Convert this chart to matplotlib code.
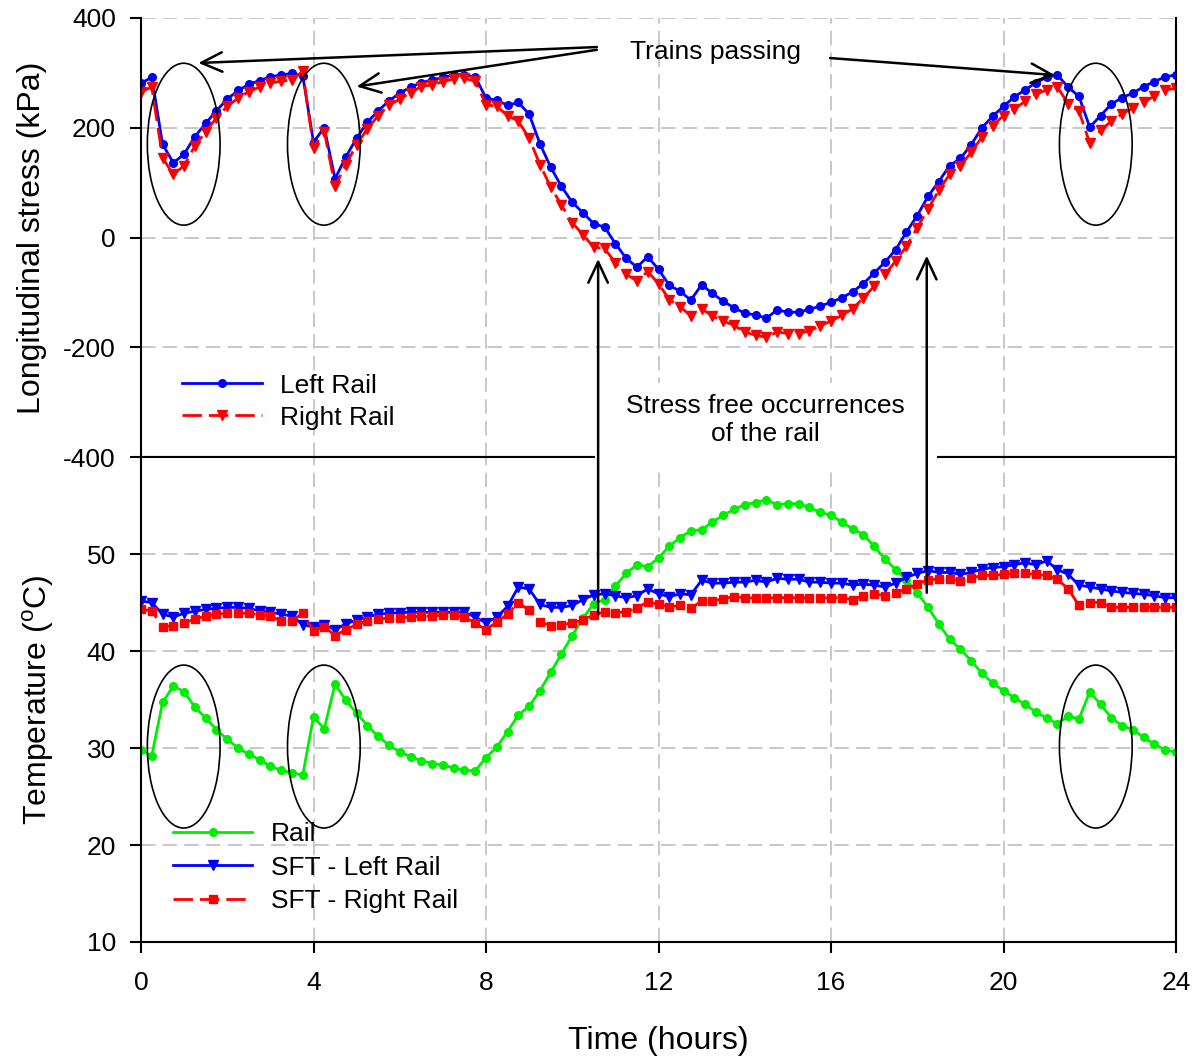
import matplotlib
matplotlib.use("Agg")
import matplotlib.pyplot as plt
from matplotlib.patches import Ellipse, Rectangle, ConnectionPatch
import numpy as np

plt.rcParams['font.family'] = ['Liberation Sans', 'DejaVu Sans']
plt.rcParams['mathtext.fontset'] = 'custom'
plt.rcParams['mathtext.rm'] = 'Liberation Sans'
plt.rcParams['axes.unicode_minus'] = False

# time of day, one reading every 15 minutes
hours = np.arange(0, 24.01, 0.25)

# longitudinal stress (kPa)
left_rail = [281, 292, 170, 136, 152, 184, 208, 231, 252, 268, 279, 286, 293, 296, 299, 295,
             174, 200, 107, 147, 181, 210, 231, 249, 263, 274, 282, 287, 292, 296, 296, 293,
             254, 250, 241, 246, 225, 171, 128, 93, 64, 45, 25, 19, -11, -38, -54, -35,
             -58, -87, -98, -114, -86, -102, -116, -128, -138, -141, -147, -132, -136, -136, -131, -125,
             -118, -110, -99, -84, -65, -45, -22, 10, 40, 75, 102, 131, 144, 169, 200, 221,
             239, 256, 269, 282, 292, 296, 274, 257, 201, 222, 243, 255, 263, 275, 284, 293, 296]
right_rail = [266, 274, 145, 115, 131, 167, 193, 218, 239, 254, 266, 274, 281, 285, 287, 303,
              163, 193, 93, 133, 169, 198, 222, 241, 252, 264, 275, 278, 284, 289, 290, 285,
              242, 239, 222, 212, 181, 133, 92, 59, 27, 5, -18, -20, -46, -67, -79, -62,
              -84, -113, -126, -143, -130, -143, -152, -160, -172, -178, -182, -172, -175, -175, -170, -161,
              -152, -142, -130, -110, -89, -67, -43, -16, 18, 52, 86, 115, 131, 155, 183, 204,
              222, 234, 248, 261, 269, 274, 244, 230, 172, 195, 212, 225, 236, 246, 258, 269, 272]

# temperatures (deg C)
rail_temp = [29.8, 29.2, 34.7, 36.4, 35.8, 34.2, 33.1, 31.9, 30.9, 30.0, 29.35, 28.8, 28.1, 27.7, 27.45, 27.2,
             33.2, 32.0, 36.6, 34.9, 33.6, 32.3, 31.2, 30.3, 29.6, 29.1, 28.7, 28.4, 28.25, 27.95, 27.7, 27.65,
             29.0, 30.1, 31.7, 33.4, 34.3, 35.9, 37.8, 39.7, 41.6, 43.4, 44.9, 45.3, 46.7, 48.0, 48.9, 48.7,
             49.6, 50.8, 51.7, 52.4, 52.5, 53.3, 54.0, 54.6, 55.1, 55.3, 55.6, 55.1, 55.2, 55.2, 54.8, 54.3,
             54.0, 53.3, 52.6, 52.0, 50.8, 49.5, 48.4, 47.3, 46.0, 44.5, 42.8, 41.2, 40.2, 39.0, 37.7, 36.7,
             35.9, 35.2, 34.5, 33.7, 33.1, 32.5, 33.3, 33.0, 35.8, 34.5, 33.1, 32.3, 31.9, 31.1, 30.4, 29.8, 29.6]
sft_left = [45.15, 45.0, 43.8, 43.5, 43.9, 44.1, 44.3, 44.4, 44.5, 44.5, 44.4, 44.15, 44.0, 43.8, 43.6, 42.7,
            42.5, 42.7, 42.2, 42.8, 43.2, 43.5, 43.8, 43.9, 43.95, 44.0, 44.0, 44.0, 44.0, 44.0, 44.0, 43.5,
            42.9, 43.5, 44.6, 46.6, 46.4, 44.8, 44.5, 44.5, 44.7, 45.3, 45.8, 45.9, 45.7, 45.5, 45.7, 46.4,
            45.9, 45.6, 45.9, 45.8, 47.3, 47.0, 47.0, 47.1, 47.1, 47.3, 47.1, 47.5, 47.4, 47.4, 47.1, 47.1,
            47.0, 47.0, 46.8, 46.9, 46.8, 46.6, 47.0, 47.6, 48.0, 48.3, 48.1, 48.1, 47.9, 48.1, 48.45, 48.6,
            48.7, 48.9, 49.1, 48.9, 49.3, 48.4, 47.9, 46.8, 46.6, 46.4, 46.2, 46.05, 45.95, 45.85, 45.7, 45.5, 45.5]
sft_right = [44.3, 44.15, 42.5, 42.6, 42.9, 43.3, 43.6, 43.8, 43.9, 43.9, 43.9, 43.7, 43.6, 43.1, 43.1, 43.9,
             42.1, 42.5, 41.6, 42.2, 42.75, 43.1, 43.3, 43.4, 43.4, 43.5, 43.6, 43.6, 43.7, 43.7, 43.5, 42.85,
             42.2, 43.0, 43.8, 45.0, 44.2, 43.0, 42.6, 42.7, 42.9, 43.2, 43.7, 44.05, 43.95, 44.05, 44.4, 45.1,
             44.8, 44.55, 44.7, 44.4, 45.15, 45.15, 45.4, 45.6, 45.5, 45.45, 45.45, 45.5, 45.5, 45.5, 45.45, 45.45,
             45.5, 45.5, 45.3, 45.7, 45.9, 45.7, 46.0, 46.4, 46.9, 47.35, 47.4, 47.4, 47.25, 47.5, 47.8, 47.8,
             47.9, 48.0, 48.0, 47.9, 47.8, 47.4, 46.4, 44.7, 45.0, 45.0, 44.5, 44.5, 44.5, 44.5, 44.5, 44.5, 44.5]

# train passages (hour) circled on both panels
train_times = [0.99, 4.24, 22.14]

fs = 19
lw = 2.0
grid_kw = dict(color='#c4c4c4', linestyle=(0, (8, 4)), linewidth=1.3)

fig = plt.figure(figsize=(12, 10.57), dpi=100)
ax1 = fig.add_axes([0.1175, 0.5676, 0.8625, 0.4154])
ax2 = fig.add_axes([0.1175, 0.1088, 0.8625, 0.4588])

# ---- stress panel ----
ax1.plot(hours, left_rail, '-o', color='#0000ff', lw=lw, ms=5.5, label='Left Rail')
ax1.plot(hours, right_rail, 'v', color='#ff0000', ls=(0, (7, 2.5)), lw=lw, ms=7, label='Right Rail')
ax1.set_xlim(0, 24)
ax1.set_ylim(-400, 400)
ax1.set_yticks([-400, -200, 0, 200, 400])
ax1.set_xticks([4, 8, 12, 16, 20])
ax1.tick_params(axis='x', length=0, labelbottom=False)
ax1.grid(True, **grid_kw)
ax1.spines['top'].set_visible(False)
ax1.set_ylabel('Longitudinal stress (kPa)', fontsize=23, labelpad=12)
ax1.legend(loc='upper left', bbox_to_anchor=(0.04, 0.19), frameon=False, fontsize=fs,
           handlelength=3.0, handletextpad=0.7, labelspacing=0.3, borderpad=0, borderaxespad=0)

for t in train_times:
    ax1.add_patch(Ellipse((t, 170), 1.686, 295, fill=False, ec='black', lw=1.2, zorder=5))

arrow_kw = dict(arrowstyle='->,head_length=0.75,head_width=0.35', mutation_scale=20,
                color='black', lw=1.8, shrinkA=0, shrinkB=0)
ax1.text(13.33, 338, 'Trains passing', fontsize=fs, ha='center', va='center')
ax1.annotate('', xy=(1.33, 318), xytext=(10.57, 347), arrowprops=arrow_kw, annotation_clip=False)
ax1.annotate('', xy=(5.0, 275), xytext=(10.57, 342), arrowprops=arrow_kw, annotation_clip=False)
ax1.annotate('', xy=(21.19, 296), xytext=(15.98, 327), arrowprops=arrow_kw, annotation_clip=False)

# ---- temperature panel ----
ax2.plot(hours, rail_temp, '-o', color='#00ee00', lw=lw, ms=5.5, label='Rail')
ax2.plot(hours, sft_left, '-v', color='#0000ff', lw=lw, ms=6.5, label='SFT - Left Rail')
ax2.plot(hours, sft_right, 's', color='#ff0000', ls=(0, (7, 2.5)), lw=lw, ms=6, label='SFT - Right Rail')
ax2.set_xlim(0, 24)
ax2.set_ylim(10, 60)
ax2.set_yticks([10, 20, 30, 40, 50])
ax2.set_xticks(np.arange(0, 25, 4))
ax2.grid(True, **grid_kw)
ax2.set_xlabel('Time (hours)', fontsize=23, labelpad=22)
ax2.set_ylabel(r'Temperature ($^{\mathrm{o}}$C)', fontsize=23, labelpad=22)
ax2.legend(loc='upper left', bbox_to_anchor=(0.031, 0.247), frameon=False, fontsize=fs,
           handlelength=3.0, handletextpad=0.7, labelspacing=0.36, borderpad=0, borderaxespad=0)

for t in train_times:
    ax2.add_patch(Ellipse((t, 30.15), 1.686, 16.8, fill=False, ec='black', lw=1.2, zorder=5))

for ax in (ax1, ax2):
    ax.set_axisbelow(True)
    for s in ax.spines.values():
        s.set_linewidth(1.5)
    ax.tick_params(axis='both', direction='out', labelsize=fs, width=1.5, length=8, pad=10)
ax2.tick_params(axis='x', pad=13)

# label box over the panel boundary, with the two stress-free arrows
fig.add_artist(Rectangle((595 / 1200, 1 - 466 / 1057), 342 / 1200, 83 / 1057,
                         transform=fig.transFigure, fc='white', ec='none', zorder=1))
fig.text(0.6375, 0.6026, 'Stress free occurrences\nof the rail', fontsize=fs,
         ha='center', va='center', linespacing=1.2, zorder=2)
for t_tip, s_tip, temp_base in [(10.60, -39, 43.7), (18.22, -33, 46.0)]:
    con = ConnectionPatch(xyA=(t_tip, temp_base), coordsA=ax2.transData,
                          xyB=(t_tip, s_tip), coordsB=ax1.transData,
                          arrowstyle='->,head_length=0.75,head_width=0.35', mutation_scale=20,
                          color='black', lw=1.8, shrinkA=0, shrinkB=0, zorder=3)
    fig.add_artist(con)

fig.savefig('out.png', dpi=100)
